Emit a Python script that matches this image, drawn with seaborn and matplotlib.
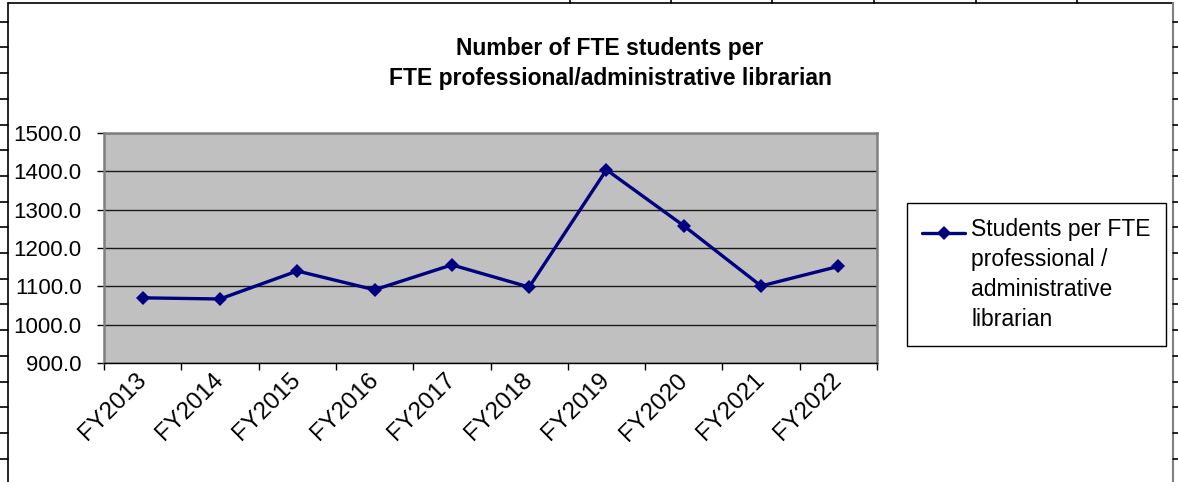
import numpy as np
import pandas as pd
import seaborn as sns
import matplotlib.pyplot as plt
from matplotlib.lines import Line2D
from matplotlib.legend_handler import HandlerLine2D

# values
years = ['FY2013', 'FY2014', 'FY2015', 'FY2016', 'FY2017',
         'FY2018', 'FY2019', 'FY2020', 'FY2021', 'FY2022']
students_per_librarian = [1070.0, 1067.0, 1140.0, 1091.0, 1156.0,
                          1098.0, 1404.0, 1258.0, 1101.0, 1152.0]
y_ticks = [900, 1000, 1100, 1200, 1300, 1400, 1500]
series_label = 'Students per FTE\nprofessional /\nadministrative\nlibrarian'
title = 'Number of FTE students per\nFTE professional/administrative librarian'

df = pd.DataFrame({'year': years, 'ratio': students_per_librarian})

sns.set_style('white')
plt.rcParams['font.family'] = ['Liberation Sans', 'DejaVu Sans']
plt.rcParams['text.color'] = 'black'
plt.rcParams['xtick.color'] = 'black'
plt.rcParams['ytick.color'] = 'black'


class TopLineHandler(HandlerLine2D):
    # put the legend line next to the first line of a multi-line label
    shift = 31

    def create_artists(self, legend, orig_handle, xdescent, ydescent,
                       width, height, fontsize, trans):
        arts = super().create_artists(legend, orig_handle, xdescent, ydescent,
                                      width, height, fontsize, trans)
        for a in arts:
            a.set_ydata(np.asarray(a.get_ydata(), dtype=float) + self.shift)
        return arts


W, H = 1178, 482
fig = plt.figure(figsize=(W / 100, H / 100), dpi=100)
ax = fig.add_axes([104 / W, (H - 363) / H, 773 / W, 230 / H])
ax.set_facecolor('#C0C0C0')

sns.lineplot(data=df, x='year', y='ratio', ax=ax, color='#000080',
             linewidth=2.4, marker='D', markersize=7.5, markeredgewidth=0,
             label=series_label, sort=False)

ax.set_xlim(-0.5, len(years) - 0.5)
ax.set_ylim(900, 1500)
ax.set_yticks(y_ticks, labels=[f'{v:.1f}' for v in y_ticks])
ax.set_xticks(range(len(years)), labels=years)
ax.set_xticks(np.arange(-0.5, len(years), 1), minor=True)
ax.grid(axis='y', color='#1a1a1a', linewidth=1)
ax.set_axisbelow(True)
ax.set_xlabel('')
ax.set_ylabel('')

ax.tick_params(axis='y', direction='out', length=5, width=1, color='black',
               pad=11, labelsize=16, left=True)
ax.tick_params(axis='x', which='major', length=0, pad=10, labelsize=17.5)
ax.tick_params(axis='x', which='minor', direction='out', length=5, width=1,
               color='black', bottom=True)
for lab in ax.get_xticklabels():
    lab.set_rotation(45)
    lab.set_ha('right')
    lab.set_va('center')
    lab.set_rotation_mode('anchor')

for side in ['left', 'right', 'top']:
    ax.spines[side].set_color('#808080')
    ax.spines[side].set_linewidth(1.8)
ax.spines['bottom'].set_color('black')
ax.spines['bottom'].set_linewidth(1)

fig.text(610 / W, 1 - 37 / H, title, ha='center', va='top',
         fontsize=16.5, fontweight='bold', linespacing=1.4)

ax.get_legend().remove()
handles, labels = ax.get_legend_handles_labels()
leg = fig.legend(handles, labels, loc='upper left',
                 bbox_to_anchor=(907 / W, 1 - 203 / H),
                 bbox_transform=fig.transFigure, fontsize=16.5, frameon=True,
                 fancybox=False, edgecolor='black', framealpha=1,
                 borderpad=0.65, borderaxespad=0, handlelength=1.9,
                 handletextpad=0.25,
                 handler_map={handles[0]: TopLineHandler()})
leg.get_frame().set_linewidth(1)
for t in leg.get_texts():
    t.set_linespacing(1.4)

# spreadsheet cell borders around the embedded chart
def fig_line(x0, y0, x1, y1, color='black', lw=1.2):
    fig.add_artist(Line2D([x0 / W, x1 / W], [1 - y0 / H, 1 - y1 / H],
                          color=color, linewidth=lw))

fig_line(8, 3, 1173, 3)
fig_line(8, 3, 8, H)
fig_line(1173, 3, 1173, H, color='#808080', lw=1.5)
for x in [570, 671, 772, 874, 976, 1077]:
    fig_line(x, 0, x, 3)
for y in np.arange(21.7, H, 25.7):
    fig_line(0, y, 8, y)
    fig_line(1173, y, W, y)

fig.savefig('out.png', dpi=100)
